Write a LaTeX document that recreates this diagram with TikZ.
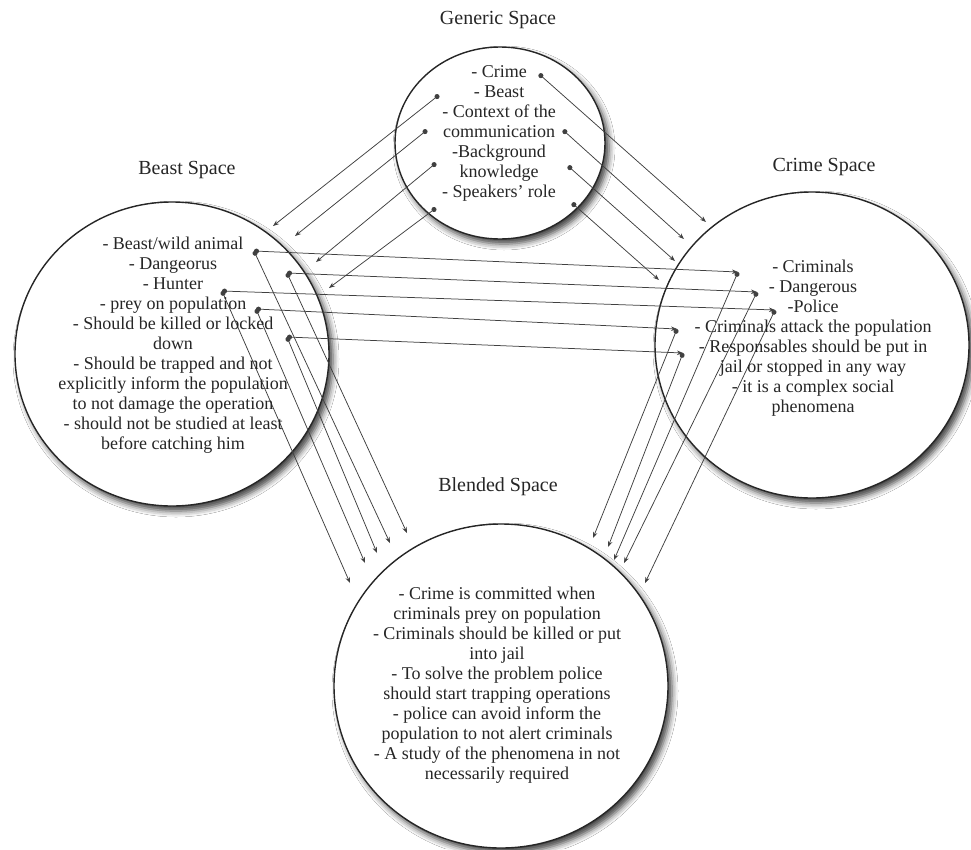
\documentclass[tikz,border=0pt]{standalone}
\usepackage{fontspec}
\setmainfont{Liberation Serif}
\usetikzlibrary{arrows.meta,shapes.geometric,shadows.blur}
\begin{document}
\begin{tikzpicture}[x=1pt,y=-1pt,
  space/.style={ellipse, draw=black!85, line width=1.4pt, fill=white,
    blur shadow={shadow xshift=4pt, shadow yshift=-5pt, shadow blur radius=6pt, shadow opacity=75},
    inner sep=0pt},
  txt/.style={align=center, font=\fontsize{18}{20}\selectfont, text=black!85, inner sep=0pt},
  ttl/.style={font=\fontsize{20}{22}\selectfont, text=black!85, inner sep=0pt},
  conn/.style={draw=black!75, line width=0.75pt, {Circle[length=5pt]}-{Stealth[length=6pt,width=4.5pt]}},
]
\useasboundingbox[fill=white] (0,0) rectangle (971,849);

% spaces
\node[space, minimum width=210pt, minimum height=192pt] (gen) at (500,143) {};
\node[space, minimum width=314pt, minimum height=304pt] (beast) at (172,354) {};
\node[space, minimum width=314pt, minimum height=306pt] (crime) at (812,345) {};
\node[space, minimum width=334pt, minimum height=324pt] (blend) at (501,686) {};

% titles
\node[ttl] (gentitle) at (498,20) {Generic Space};
\node[ttl] (beasttitle) at (187,170) {Beast Space};
\node[ttl] (crimetitle) at (824,167) {Crime Space};
\node[ttl] (blendtitle) at (498,487) {Blended Space};

% connector points
\coordinate (gL1) at (439,95);  \coordinate (gL2) at (427,130);
\coordinate (gL3) at (436,163); \coordinate (gL4) at (436,208);
\coordinate (bG1) at (273,226); \coordinate (bG2) at (295,236);
\coordinate (bG3) at (316,262); \coordinate (bG4) at (329,288);
\coordinate (gR1) at (539,74);  \coordinate (gR2) at (563,130);
\coordinate (gR3) at (568,166); \coordinate (gR4) at (572,203);
\coordinate (cG1) at (706,222); \coordinate (cG2) at (684,239);
\coordinate (cG3) at (675,261); \coordinate (cG4) at (659,280);

\coordinate (bA) at (254,251); \coordinate (bD) at (287,273);
\coordinate (bH) at (222,291); \coordinate (bP) at (256,309);
\coordinate (bK) at (287,337);
\coordinate (cC) at (738,272); \coordinate (cD) at (757,292);
\coordinate (cP) at (775,310); \coordinate (cA) at (677,329);
\coordinate (cR) at (683,353);

\coordinate (lb1) at (350,583); \coordinate (lb2) at (365,563);
\coordinate (lb3) at (377,553); \coordinate (lb4) at (390,543);
\coordinate (lb5) at (407,533);
\coordinate (rb1) at (593,538); \coordinate (rb2) at (608,547);
\coordinate (rb3) at (614,560); \coordinate (rb4) at (624,563);
\coordinate (rb5) at (645,583);

% generic -> beast
\draw[conn] (gL1) -- (bG1);
\draw[conn] (gL2) -- (bG2);
\draw[conn] (gL3) -- (bG3);
\draw[conn] (gL4) -- (bG4);
% generic -> crime
\draw[conn] (gR1) -- (cG1);
\draw[conn] (gR2) -- (cG2);
\draw[conn] (gR3) -- (cG3);
\draw[conn] (gR4) -- (cG4);
% beast -> crime
\draw[conn] (bA) -- (cC);
\draw[conn] (bD) -- (cD);
\draw[conn] (bH) -- (cP);
\draw[conn] (bP) -- (cA);
\draw[conn] (bK) -- (cR);
% beast -> blended
\draw[conn] (bH) -- (lb1);
\draw[conn] (bP) -- (lb2);
\draw[conn] (bK) -- (lb3);
\draw[conn] (bA) -- (lb4);
\draw[conn] (bD) -- (lb5);
% crime -> blended
\draw[conn] (cA) -- (rb1);
\draw[conn] (cR) -- (rb2);
\draw[conn] (cC) -- (rb3);
\draw[conn] (cD) -- (rb4);
\draw[conn] (cP) -- (rb5);

% texts
\node[txt] (gentxt) at (499,133) {- Crime\\ - Beast\\ - Context of the\\ communication\\ -Background\\ knowledge\\ - Speakers' role};
\node[txt] (beasttxt) at (173,345) {- Beast/wild animal\\ - Dangeorus\\ - Hunter\\ - prey on population\\ - Should be killed or locked\\ down\\ - Should be trapped and not\\ explicitly inform the population\\ to not damage the operation\\ - should not be studied at least\\ before catching him};
\node[txt] (crimetxt) at (813,338) {- Criminals\\ - Dangerous\\ -Police\\ - Criminals attack the population\\ - Responsables should be put in\\ jail or stopped in any way\\ - it is a complex social\\ phenomena};
\node[txt] (blendtxt) at (497,685) {- Crime is committed when\\ criminals prey on population\\ - Criminals should be killed or put\\ into jail\\ - To solve the problem police\\ should start trapping operations\\ - police can avoid inform the\\ population to not alert criminals\\ - A study of the phenomena in not\\ necessarily required};
\end{tikzpicture}
\end{document}
